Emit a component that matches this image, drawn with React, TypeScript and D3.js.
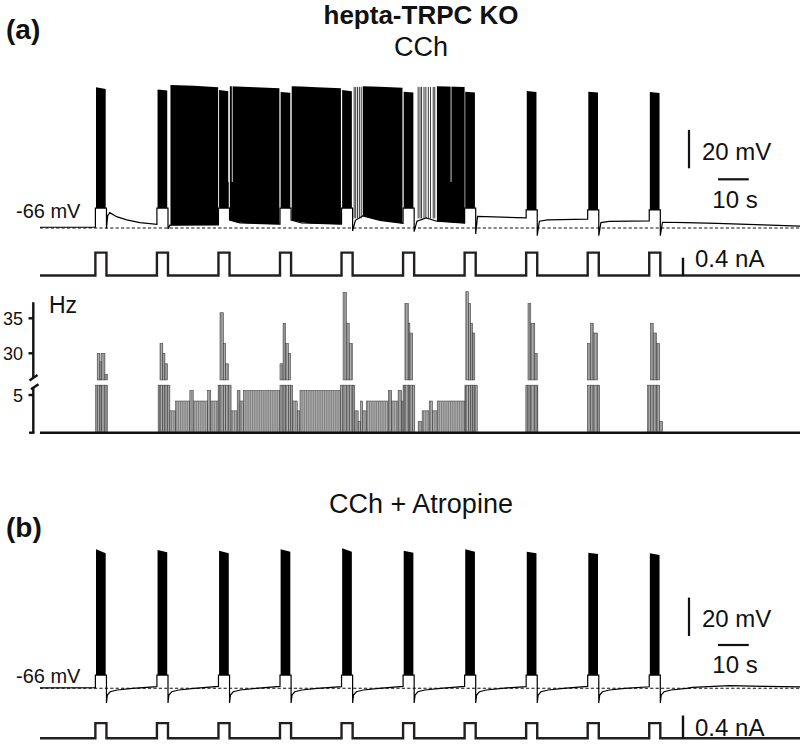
import React from 'react';
import * as d3 from 'd3';

type Pt = [number, number];
type Env = [number, number, number]; // time (s), top (mV), bottom (mV)
type Seg = [number, number, number]; // t0 (s), t1 (s), Hz

const FONT = '"Liberation Sans", Arial, Helvetica, sans-serif';

// time axis shared by all rows (s)
const TIME_MAX = 247;
const pulseOnsets = [18, 38, 58, 78, 98, 118, 138, 158, 178, 198];
const PULSE_DUR = 3.6;
const pulseAmpA = 0.5; // nA
const pulseAmpB = 0.26;

// (a) CCh: spike peaks at burst start / end, trough during the pulse (mV)
const peaksA: Pt[] = [[7.3, 6.4], [6.2, 5.6], [5.9, 5.2], [4.8, 4.4], [5.9, 5.2], [5.0, 4.6], [5.0, 4.6], [5.4, 4.8], [5.0, 4.6], [4.8, 4.3]];
const troughsA = [-55.6, -55.6, -55.6, -55.6, -55.6, -55.6, -55.6, -56.6, -56.6, -56.6];

// (a) membrane potential between pulses, one list per interval (t, mV)
const restA: Pt[][] = [
  [[0, -65.6], [18, -65.6]],
  [[21.6, -66.3], [22.0, -59.5], [22.7, -58.0], [24.9, -60.1], [28.2, -61.8], [32.5, -63.2], [38, -64.1]],
  [[41.6, -66.5], [42.2, -64.5], [58, -64.4]],
  [[61.6, -61.8], [65, -63.4], [78, -64.0]],
  [[81.6, -61.8], [85, -63.4], [98, -64.0]],
  [[101.6, -67.5], [102.5, -62.0], [104.9, -59.7], [110.5, -62.0], [118, -63.6]],
  [[121.6, -67.9], [122.5, -62.5], [125.5, -60.7], [129, -62.5], [138, -63.5]],
  [[141.6, -69.1], [142.2, -60.0], [155, -60.6], [158, -60.7]],
  [[161.6, -70.0], [162.3, -62.5], [165, -61.8], [178, -61.4]],
  [[181.6, -70.0], [182.3, -63.2], [185, -62.6], [198, -62.3]],
  [[201.6, -70.0], [202.3, -63.0], [210, -63.2], [220, -63.6], [235, -64.4], [247, -65.0]],
];

// (a) persistent firing between pulses: envelope of spikes
const tonicA: Env[][] = [
  [[42.4, 8.5, -64.6], [50, 8.1, -64.5], [57.9, 7.3, -64.4]],
  [[61.7, 7.8, -61.8], [64, 7.7, -63.2], [70, 7.3, -63.8], [77.8, 6.8, -64.0]],
  [[81.8, 7.8, -61.8], [85, 7.7, -63.2], [90, 7.3, -63.8], [97.8, 6.8, -64.0]],
  [[104.9, 7.8, -59.7], [110.5, 7.6, -62.0], [117.8, 7.0, -63.6]],
  [[129.0, 7.8, -62.5], [138.0, 7.4, -63.5]],
];
// isolated spikes where firing restarts (s)
const sparseSpikesA = [102.1, 102.6, 103.2, 103.8, 104.4, 122.9, 123.5, 124.0, 124.8, 125.4, 126.2, 126.9, 127.8, 128.3];
// short pauses visible as white lines inside the black band (s)
const pausesA = [61.3, 62.5, 133.6];

// (b) CCh + Atropine
const peaksB: Pt[] = [[6.4, 4.3], [6.0, 4.8], [5.7, 4.3], [6.4, 5.1], [6.9, 5.1], [5.7, 4.6], [6.4, 5.1], [5.1, 4.3], [4.6, 4.0], [4.3, 3.4]];
const TROUGH_B = -59.1;
const startB: Pt[] = [[0, -65.8], [18, -65.6]];
const ahpB: Pt[] = [[0, -73.6], [0.3, -69.5], [1.2, -67.8], [3.5, -66.9], [8.5, -66.0]]; // after pulse offset
const preB = [-65.1, -65.0, -65.0, -65.1, -65.0, -65.0, -65.1, -65.0, -65.2];
const tailB: Pt[] = [[212, -65.5], [224, -64.6], [236, -65.0], [247, -65.3]];

// (a) firing-rate histogram (Hz)
const histSegments: Seg[] = [
  [18.1, 18.6, 20], [18.6, 19.5, 30], [19.5, 20.0, 28.8], [20.0, 21.1, 30], [21.1, 21.9, 27],
  [38.4, 39.0, 20], [39.0, 39.9, 31.4], [39.9, 40.6, 30], [40.6, 41.4, 28.5], [41.4, 42.2, 20],
  [42.2, 44.1, 2.9], [44.1, 48.7, 4.2], [48.7, 49.8, 5.6], [49.8, 54.5, 4.2], [54.5, 55.5, 5.6], [55.5, 57.9, 4.2],
  [57.9, 58.5, 20], [58.5, 59.6, 35.8], [59.6, 60.3, 31.4], [60.3, 61.2, 28.5], [61.2, 62.1, 20],
  [62.1, 64.1, 2.9], [64.1, 65.0, 5.6], [65.0, 66.1, 4.2], [66.1, 78.0, 5.6],
  [78.0, 79.0, 28.5], [79.0, 79.8, 34.3], [79.8, 80.7, 31.4], [80.7, 81.4, 30], [81.4, 82.1, 20],
  [82.1, 83.6, 4.2], [83.6, 84.5, 2.9], [84.5, 97.7, 5.6],
  [97.7, 98.5, 20], [98.5, 99.6, 38.7], [99.6, 100.5, 34.3], [100.5, 101.5, 31.4], [101.5, 102.3, 20],
  [102.3, 103.4, 2.9], [103.4, 104.2, 1.5], [104.2, 104.8, 4.2], [104.8, 106.1, 2.9], [106.1, 113.2, 4.2],
  [113.2, 114.3, 5.6], [114.3, 116.4, 4.2], [116.4, 117.5, 5.6], [117.5, 118.0, 4.2],
  [118.0, 118.6, 20], [118.6, 119.7, 37.1], [119.7, 120.2, 34.3], [120.2, 121.1, 32.9], [121.1, 121.8, 20],
  [122.9, 124.2, 1.5], [124.2, 126.5, 2.9], [126.5, 127.5, 4.2], [127.5, 129.1, 2.9], [129.1, 138.1, 4.2],
  [138.1, 138.4, 20], [138.4, 139.2, 38.8], [139.2, 139.9, 37.1], [139.9, 140.6, 34.3], [140.6, 141.3, 32.9], [141.3, 142.1, 20],
  [157.9, 158.6, 20], [158.6, 159.5, 37.1], [159.5, 160.8, 34.3], [160.8, 161.6, 30], [161.6, 161.8, 20],
  [177.9, 178.9, 31.4], [178.9, 179.8, 34.3], [179.8, 181.2, 32.9], [181.2, 181.9, 20],
  [197.4, 198.4, 20], [198.4, 199.3, 34.3], [199.3, 200.4, 32.9], [200.4, 201.4, 31.4], [201.4, 202.3, 1.5],
];
const upperTicks = [35, 30];
const lowerTicks = [5];
const LOW_MAX = 6.3;
const UP_MIN = 26.2;
const UP_MAX = 37.3;

const x = d3.scaleLinear().domain([0, TIME_MAX]).range([40, 800]);
const yA = d3.scaleLinear().domain([-66, 10]).range([228, 228 - 76 * 1.92]);
const yB = d3.scaleLinear().domain([-66, 10]).range([688.3, 688.3 - 76 * 1.92]);
const iA = d3.scaleLinear().domain([0, 0.4]).range([275.5, 257.2]);
const iB = d3.scaleLinear().domain([0, 0.4]).range([738.3, 715]);
const yLow = d3.scaleLinear().domain([0, 5]).range([432.7, 395]);
const yUp = d3.scaleLinear().domain([30, 35]).range([353.3, 318.3]);

function tracePoints(rest: Pt[][], troughs: number[]): Pt[] {
  const pts: Pt[] = [];
  pulseOnsets.forEach((on, k) => {
    rest[k].forEach((p) => pts.push(p));
    pts.push([on, troughs[k]]);
    pts.push([on + PULSE_DUR, troughs[k]]);
  });
  rest[pulseOnsets.length].forEach((p) => pts.push(p));
  return pts;
}

function currentPoints(amp: number): Pt[] {
  const pts: Pt[] = [[0, 0]];
  pulseOnsets.forEach((on) => {
    pts.push([on, 0], [on, amp], [on + PULSE_DUR, amp], [on + PULSE_DUR, 0]);
  });
  pts.push([TIME_MAX, 0]);
  return pts;
}

const restB: Pt[][] = [startB];
pulseOnsets.forEach((on, k) => {
  const off = on + PULSE_DUR;
  const seg: Pt[] = ahpB.map(([dt, v]) => [off + dt, v] as Pt);
  if (k < pulseOnsets.length - 1) seg.push([pulseOnsets[k + 1], preB[k]]);
  else tailB.forEach((p) => seg.push(p));
  restB.push(seg);
});

const ScaleBars: React.FC<{ y: d3.ScaleLinear<number, number>; i: d3.ScaleLinear<number, number>; mvBottom: number; sBarY: number; sTextY: number; mvTextY: number; nATextY: number }> = ({ y, i, mvBottom, sBarY, sTextY, mvTextY, nATextY }) => {
  const mvLen = y(-66) - y(-46);
  const sLen = x(10) - x(0);
  const nALen = i(0) - i(0.4);
  const nABottom = i(0) + 0.5;
  return (
    <g fontFamily={FONT} fontSize={24} fill="#111">
      <line x1={689} x2={689} y1={mvBottom - mvLen} y2={mvBottom} stroke="#111" strokeWidth={2.2} />
      <text x={702} y={mvTextY}>20 mV</text>
      <line x1={718} x2={718 + sLen} y1={sBarY} y2={sBarY} stroke="#111" strokeWidth={2.2} />
      <text x={735} y={sTextY} textAnchor="middle">10 s</text>
      <line x1={683} x2={683} y1={nABottom - nALen} y2={nABottom} stroke="#111" strokeWidth={2.4} />
      <text x={695} y={nATextY}>0.4 nA</text>
    </g>
  );
};

export default function App() {
  const vLineA = d3.line<Pt>().x((d) => x(d[0])).y((d) => yA(d[1]));
  const vLineB = d3.line<Pt>().x((d) => x(d[0])).y((d) => yB(d[1]));
  const cLineA = d3.line<Pt>().x((d) => x(d[0])).y((d) => iA(d[1]));
  const cLineB = d3.line<Pt>().x((d) => x(d[0])).y((d) => iB(d[1]));
  const envA = d3.area<Env>().x((d) => x(d[0])).y0((d) => yA(d[2])).y1((d) => yA(d[1]));
  const envB = d3.area<Env>().x((d) => x(d[0])).y0((d) => yB(d[2])).y1((d) => yB(d[1]));

  const burst = (k: number, peaks: Pt[], trough: number): Env[] => [
    [pulseOnsets[k] + 0.2, peaks[k][0], trough],
    [pulseOnsets[k] + PULSE_DUR - 0.25, peaks[k][1], trough],
  ];

  return (
    <svg width={800} height={749} style={{ position: 'absolute', left: 0, top: 0, background: '#fff' }}>
      <defs>
        <pattern id="hatch" width={1.8} height={6} patternUnits="userSpaceOnUse">
          <rect width={1.8} height={6} fill="#b0b0b0" />
          <rect width={0.6} height={6} fill="#666" />
        </pattern>
      </defs>

      {/* titles */}
      <g fontFamily={FONT} fill="#111">
        <text x={6} y={39} fontSize={28} fontWeight="bold">(a)</text>
        <text x={421} y={24} fontSize={26} fontWeight="bold" textAnchor="middle">hepta-TRPC KO</text>
        <text x={421} y={56} fontSize={27} textAnchor="middle">CCh</text>
        <text x={6} y={537} fontSize={28} fontWeight="bold">(b)</text>
        <text x={421} y={513} fontSize={27} textAnchor="middle">CCh + Atropine</text>
        <text x={16} y={218} fontSize={20}>-66 mV</text>
        <text x={16} y={683} fontSize={20}>-66 mV</text>
      </g>

      {/* (a) voltage */}
      <line x1={x(0)} x2={x(TIME_MAX)} y1={yA(-66)} y2={yA(-66)} stroke="#111" strokeWidth={1.1} strokeDasharray="3.2 2.2" />
      <path d={vLineA(tracePoints(restA, troughsA)) ?? ''} fill="none" stroke="#000" strokeWidth={1.2} />
      {tonicA.map((seg, k) => (
        <path key={`t${k}`} d={envA(seg) ?? ''} fill="#000" />
      ))}
      {pulseOnsets.map((_, k) => (
        <path key={`ba${k}`} d={envA(burst(k, peaksA, troughsA[k])) ?? ''} fill="#000" />
      ))}
      {sparseSpikesA.map((t, k) => (
        <line key={`s${k}`} x1={x(t)} x2={x(t)} y1={yA(-61)} y2={yA(7.5)} stroke="#222" strokeWidth={0.9} />
      ))}
      {pausesA.map((t, k) => (
        <line key={`g${k}`} x1={x(t)} x2={x(t)} y1={yA(10)} y2={yA(-42)} stroke="#fff" strokeWidth={0.8} />
      ))}

      {/* (a) current */}
      <path d={cLineA(currentPoints(pulseAmpA)) ?? ''} fill="none" stroke="#231f20" strokeWidth={2.4} />
      <ScaleBars y={yA} i={iA} mvBottom={168.3} sBarY={179.3} sTextY={208} mvTextY={160} nATextY={267} />

      {/* (a) firing rate */}
      {histSegments.map(([t0, t1, hz], k) => {
        const low = Math.min(hz, LOW_MAX);
        return (
          <g key={`h${k}`}>
            <rect x={x(t0)} width={x(t1) - x(t0)} y={yLow(low)} height={yLow(0) - yLow(low)} fill="url(#hatch)" stroke="#444" strokeWidth={0.6} />
            {hz > UP_MIN && (
              <rect x={x(t0)} width={x(t1) - x(t0)} y={yUp(hz)} height={yUp(UP_MIN) - yUp(hz)} fill="url(#hatch)" stroke="#444" strokeWidth={0.6} />
            )}
          </g>
        );
      })}
      <line x1={x(0)} x2={x(TIME_MAX)} y1={yLow(0)} y2={yLow(0)} stroke="#111" strokeWidth={2.6} />
      <g stroke="#111" strokeWidth={2.4} fill="none">
        <line x1={33.3} x2={33.3} y1={yUp(UP_MAX)} y2={yUp(UP_MIN) - 2} />
        <line x1={29.5} y1={yUp(UP_MIN) + 0.5} x2={37.5} y2={yUp(UP_MIN) - 5} />
        <line x1={33.3} x2={33.3} y1={yLow(LOW_MAX) + 3} y2={yLow(0)} />
        <line x1={31} y1={yLow(LOW_MAX) + 4} x2={38.5} y2={yLow(LOW_MAX) - 1} />
        <line x1={29} x2={34.5} y1={yLow(0)} y2={yLow(0)} />
        {upperTicks.map((v) => (
          <line key={`ut${v}`} x1={28.5} x2={33.3} y1={yUp(v)} y2={yUp(v)} />
        ))}
        {lowerTicks.map((v) => (
          <line key={`lt${v}`} x1={28.5} x2={33.3} y1={yLow(v)} y2={yLow(v)} />
        ))}
      </g>
      <g fontFamily={FONT} fontSize={18} fill="#111" textAnchor="end">
        {upperTicks.map((v) => (
          <text key={`ul${v}`} x={23} y={yUp(v) + 6.5}>{v}</text>
        ))}
        {lowerTicks.map((v) => (
          <text key={`ll${v}`} x={23} y={yLow(v) + 6.5}>{v}</text>
        ))}
      </g>
      <text x={49} y={313} fontFamily={FONT} fontSize={23} fill="#111">Hz</text>

      {/* (b) voltage */}
      <line x1={x(0)} x2={x(TIME_MAX)} y1={yB(-66)} y2={yB(-66)} stroke="#111" strokeWidth={1.1} strokeDasharray="3.2 2.2" />
      <path d={vLineB(tracePoints(restB, pulseOnsets.map(() => TROUGH_B))) ?? ''} fill="none" stroke="#000" strokeWidth={1.2} />
      {pulseOnsets.map((_, k) => (
        <path key={`bb${k}`} d={envB(burst(k, peaksB, TROUGH_B)) ?? ''} fill="#000" />
      ))}

      {/* (b) current */}
      <path d={cLineB(currentPoints(pulseAmpB)) ?? ''} fill="none" stroke="#231f20" strokeWidth={2.4} />
      <ScaleBars y={yB} i={iB} mvBottom={636} sBarY={645} sTextY={673} mvTextY={627} nATextY={736} />
    </svg>
  );
}
